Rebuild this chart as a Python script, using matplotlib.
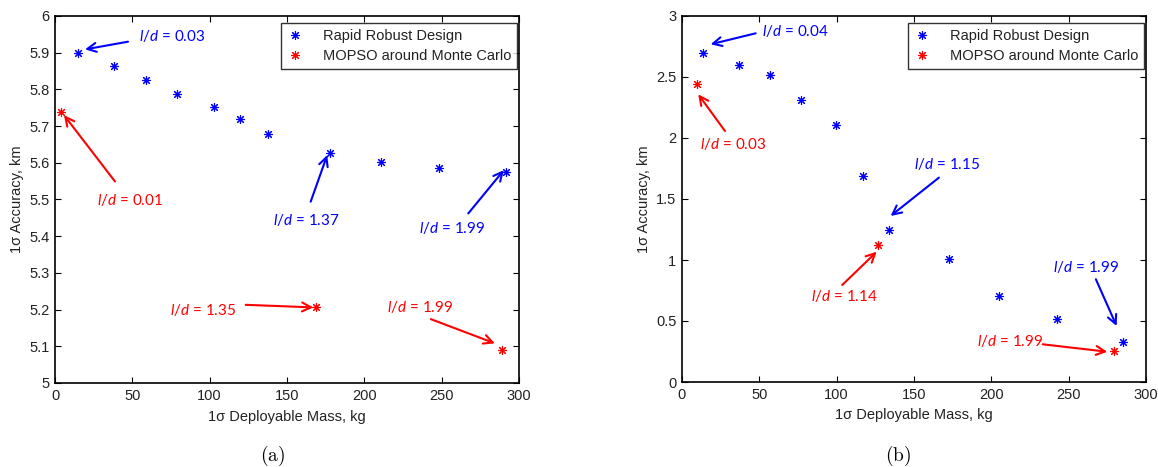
import matplotlib
matplotlib.use("Agg")
import matplotlib.pyplot as plt

# ---- Panel (a) data ----
a_rrd_mass = [15.1, 38.3, 58.6, 78.7, 102.6, 119.6, 137.9, 177.8, 210.7, 248.4, 291.5]
a_rrd_acc = [5.900, 5.865, 5.825, 5.788, 5.752, 5.718, 5.678, 5.628, 5.603, 5.587, 5.576]
a_mc_mass = [3.7, 168.7, 289.1]
a_mc_acc = [5.739, 5.206, 5.090]

# ---- Panel (b) data ----
b_rrd_mass = [13.8, 36.8, 56.9, 76.7, 99.3, 116.8, 134.0, 172.8, 205.1, 242.2, 284.9]
b_rrd_acc = [2.70, 2.598, 2.516, 2.311, 2.107, 1.689, 1.246, 1.006, 0.705, 0.514, 0.328]
b_mc_mass = [9.9, 126.9, 279.3]
b_mc_acc = [2.443, 1.123, 0.257]

series_labels = ["Rapid Robust Design", "MOPSO around Monte Carlo"]
xlabel = "1\u03c3 Deployable Mass, kg"
ylabel = "1\u03c3 Accuracy, km"
captions = ["(a)", "(b)"]

# annotations: (value text, colour, text xy, arrow start, arrow end)
a_notes = [
    ("0.03", "blue", (54.3, 5.945), (47.2, 5.930), (19.4, 5.909)),
    ("0.01", "red", (27.0, 5.499), (38.8, 5.549), (5.8, 5.730)),
    ("1.37", "blue", (140.7, 5.444), (165.3, 5.494), (176.0, 5.621)),
    ("1.99", "blue", (235.5, 5.423), (267.2, 5.462), (290.2, 5.580)),
    ("1.35", "red", (74.3, 5.199), (123.3, 5.213), (167.0, 5.206)),
    ("1.99", "red", (214.4, 5.206), (243.0, 5.174), (284.4, 5.108)),
]
b_notes = [
    ("0.04", "blue", (51.5, 2.877), (47.6, 2.858), (18.5, 2.768)),
    ("0.03", "red", (11.6, 1.948), (27.8, 2.057), (10.5, 2.358)),
    ("1.15", "blue", (150.2, 1.787), (166.1, 1.675), (134.9, 1.361)),
    ("1.14", "red", (83.2, 0.705), (103.6, 0.795), (125.9, 1.068)),
    ("1.99", "blue", (240.0, 0.945), (267.6, 0.842), (281.0, 0.459)),
    ("1.99", "red", (190.9, 0.339), (233.2, 0.309), (275.0, 0.248)),
]

plt.rcParams['font.family'] = ['Liberation Sans', 'DejaVu Sans']
plt.rcParams['mathtext.fontset'] = 'custom'
plt.rcParams['mathtext.it'] = 'Lato:italic'
plt.rcParams['mathtext.rm'] = 'Lato'

fig = plt.figure(figsize=(11.58, 4.67), dpi=100)
W, H = 1158, 467

def make_axes(l, r, t, b):
    return fig.add_axes([l / W, 1 - b / H, (r - l) / W, (b - t) / H])

axA = make_axes(55, 519, 16, 383)
axB = make_axes(682, 1146, 16, 382)

marker = (8, 2, 0)

def draw(ax, rm, ra, mm, ma, notes, ylim, yticks, yfmt):
    ax.plot(rm, ra, linestyle='none', marker=marker, color='blue', markersize=6.5,
            markeredgewidth=0.8, label=series_labels[0])
    ax.plot(mm, ma, linestyle='none', marker=marker, color='red', markersize=6.5,
            markeredgewidth=0.8, label=series_labels[1])
    ax.set_xlim(0, 300)
    ax.set_ylim(*ylim)
    ax.set_xticks([0, 50, 100, 150, 200, 250, 300])
    ax.set_yticks(yticks)
    ax.set_yticklabels([yfmt(v) for v in yticks])
    ax.tick_params(direction='in', top=True, right=True, labelsize=10.5,
                   length=4, width=0.8, colors='black', labelcolor='#222222', pad=4)
    for s in ax.spines.values():
        s.set_linewidth(1.2)
    ax.set_xlabel(xlabel, fontsize=10.5, color='#222222', labelpad=5)
    ax.set_ylabel(ylabel, fontsize=10.5, color='#222222', labelpad=4)
    for val, col, txy, a0, a1 in notes:
        ax.text(txy[0], txy[1], r"$\mathit{l/d}$" + " = " + val, color=col,
                fontsize=11, family=['Lato', 'DejaVu Sans'], va='center', ha='left')
        ax.annotate("", xy=a1, xytext=a0,
                    arrowprops=dict(arrowstyle='->', color=col, lw=1.5,
                                    mutation_scale=16, shrinkA=0, shrinkB=0))
    leg = ax.legend(loc='upper right', bbox_to_anchor=(0.996, 0.981), borderaxespad=0,
                    fontsize=10.5, frameon=True, fancybox=False, edgecolor='black',
                    handlelength=1.2, handletextpad=1.3, borderpad=0.4,
                    labelspacing=0.45)
    leg.get_frame().set_linewidth(1.0)
    for t in leg.get_texts():
        t.set_color('#222222')

fmt = lambda v: ("%d" % v) if abs(v - round(v)) < 1e-9 else ("%.1f" % v)
draw(axA, a_rrd_mass, a_rrd_acc, a_mc_mass, a_mc_acc, a_notes, (5, 6),
     [5.0, 5.1, 5.2, 5.3, 5.4, 5.5, 5.6, 5.7, 5.8, 5.9, 6.0], fmt)
draw(axB, b_rrd_mass, b_rrd_acc, b_mc_mass, b_mc_acc, b_notes, (0, 3),
     [0, 0.5, 1, 1.5, 2, 2.5, 3], fmt)

for cx, cap in zip([272.5, 898], captions):
    fig.text(cx / W, 1 - 456 / H, r"$\mathrm{" + cap + "}$", ha='center', va='center',
             fontsize=14, math_fontfamily='cm')

fig.savefig("out.png", dpi=100, facecolor='white')
